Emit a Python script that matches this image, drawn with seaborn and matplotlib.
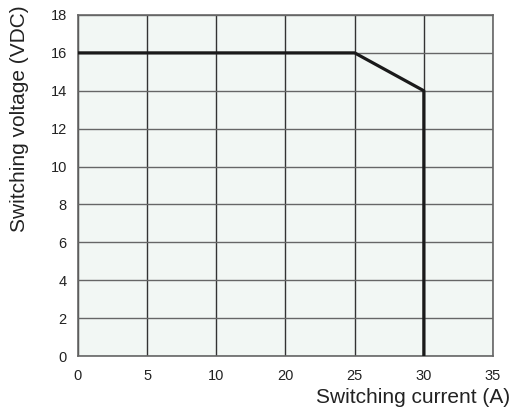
import numpy as np
import pandas as pd
import matplotlib
matplotlib.use("Agg")
import matplotlib.pyplot as plt
import seaborn as sns

# Tick labels as printed on the reference (note: "15" is absent in the original)
x_tick_labels = [0, 5, 10, 20, 25, 30, 35]
y_ticks = [0, 2, 4, 6, 8, 10, 12, 14, 16, 18]

# Boundary curve (switching current A, switching voltage VDC)
current = [0, 25, 30, 30]
voltage = [16, 16, 14, 0]

sns.set_theme(style="white")
plt.rcParams['font.family'] = ['Liberation Sans', 'DejaVu Sans']

# Map current values onto evenly spaced tick positions, as in the original
tick_pos = np.arange(len(x_tick_labels))
xpos = np.interp(current, x_tick_labels, tick_pos)
df = pd.DataFrame({"pos": xpos, "voltage": voltage})

fig = plt.figure(figsize=(5.11, 4.12), dpi=100)
ax = fig.add_axes([0.1526, 0.1359, 0.8122, 0.8277])
ax.set_facecolor("#f2f7f4")

for p in tick_pos:
    ax.axvline(p, color="#333333", lw=1.0, zorder=1)
for y in y_ticks:
    ax.axhline(y, color="#666666", lw=1.0, zorder=1)

sns.lineplot(data=df, x="pos", y="voltage", sort=False, estimator=None,
             color="#1a1a1a", lw=2.3, ax=ax, zorder=3)

ax.set_xlim(tick_pos[0], tick_pos[-1])
ax.set_ylim(0, 18)
ax.set_xticks(tick_pos)
ax.set_xticklabels([str(v) for v in x_tick_labels])
ax.set_yticks(y_ticks)
ax.tick_params(axis="both", labelsize=10.5, colors="#222222", length=0, pad=8)
ax.tick_params(axis="x", pad=9)

for s in ax.spines.values():
    s.set_color("#666666")
    s.set_linewidth(1.2)

ax.set_xlabel("")
ax.set_ylabel("")
fig.text(0.998, 0.034, "Switching current (A)", ha="right", va="center",
         fontsize=15, color="#222222")
fig.text(0.038, 0.712, "Switching voltage (VDC)", ha="center", va="center",
         rotation=90, fontsize=15, color="#222222")

fig.savefig("out.png", dpi=100)
